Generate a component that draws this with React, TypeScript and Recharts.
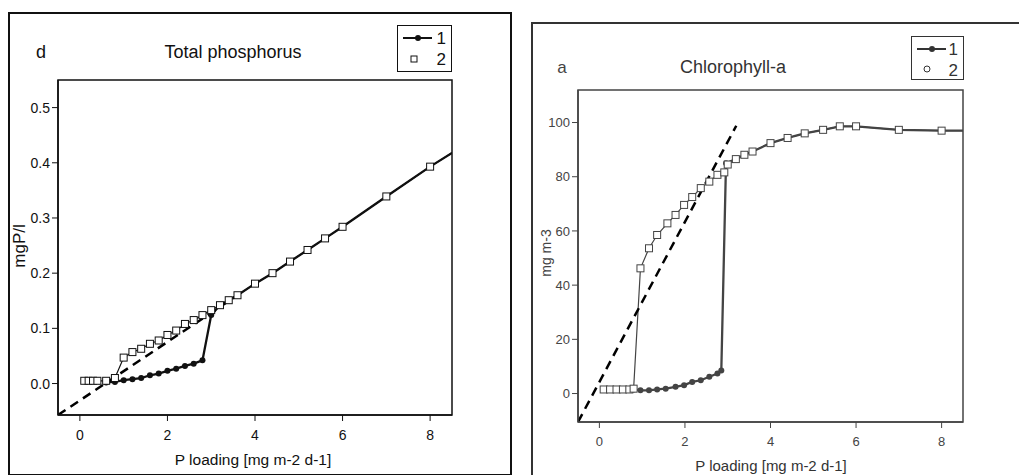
import React from "react";
import { LineChart, Line, XAxis, YAxis, ReferenceArea } from "recharts";

// Total phosphorus (panel d)
const tpX1 = [0.6, 0.8, 1.0, 1.2, 1.4, 1.6, 1.8, 2.0, 2.2, 2.4, 2.6, 2.8, 3.0, 3.2, 3.4, 3.6, 4.0, 4.4, 4.8, 5.2, 5.6, 6.0, 7.0, 8.0, 8.5];
const tpY1 = [0.002, 0.003, 0.006, 0.008, 0.01, 0.015, 0.018, 0.023, 0.027, 0.032, 0.036, 0.042, 0.124, 0.142, 0.151, 0.16, 0.181, 0.2, 0.221, 0.242, 0.263, 0.284, 0.339, 0.393, 0.418];
const tpX2 = [0.1, 0.2, 0.3, 0.4, 0.6, 0.8, 1.0, 1.2, 1.4, 1.6, 1.8, 2.0, 2.2, 2.4, 2.6, 2.8, 3.0, 3.2, 3.4, 3.6, 4.0, 4.4, 4.8, 5.2, 5.6, 6.0, 7.0, 8.0, 8.5];
const tpY2 = [0.005, 0.005, 0.005, 0.005, 0.005, 0.01, 0.047, 0.057, 0.063, 0.072, 0.078, 0.088, 0.096, 0.108, 0.115, 0.124, 0.133, 0.142, 0.151, 0.16, 0.181, 0.2, 0.221, 0.242, 0.263, 0.284, 0.339, 0.393, 0.418];
const tpDashX = [-0.5, 3.6];
const tpDashY = [-0.057, 0.16];
const tpYTicks = [0, 0.1, 0.2, 0.3, 0.4, 0.5];

// Chlorophyll-a (panel a)
const chX1 = [0.8, 0.96, 1.16, 1.35, 1.55, 1.78, 1.98, 2.17, 2.37, 2.57, 2.76, 2.85, 2.96, 3.19, 3.39, 3.58, 4.0, 4.4, 4.8, 5.23, 5.62, 6.0, 7.0, 8.0, 8.5];
const chY1 = [1.5, 1.2, 1.2, 1.5, 1.8, 2.5, 3.1, 4.3, 4.9, 6.2, 7.4, 8.5, 85, 86.5, 88.1, 89.3, 92.4, 94.3, 96, 97.3, 98.6, 98.6, 97.3, 97, 97];
const chX2 = [0.1, 0.25, 0.4, 0.55, 0.7, 0.8, 0.96, 1.16, 1.35, 1.59, 1.78, 1.98, 2.17, 2.37, 2.57, 2.76, 2.92, 3.0, 3.19, 3.39, 3.58, 4.0, 4.4, 4.8, 5.23, 5.62, 6.0, 7.0, 8.0, 8.5];
const chY2 = [1.5, 1.5, 1.5, 1.5, 1.5, 1.8, 46.2, 53.6, 58.5, 62.8, 65.9, 69.6, 72.5, 75.8, 78.2, 80.7, 81.6, 84.5, 86.5, 88.1, 89.3, 92.4, 94.3, 96, 97.3, 98.6, 98.6, 97.3, 97, 97];
const chDashX = [-0.5, 3.2];
const chDashY = [-10.5, 98.8];
const chYTicks = [0, 20, 40, 60, 80, 100];

const xTicks = [0, 2, 4, 6, 8];
const xDomain = [-0.5, 8.5];

const toRows = (xs: number[], ys: number[]) => xs.map((x, i) => ({ x, y: ys[i] }));

const FONT = '"Liberation Sans", Arial, sans-serif';

function makeDots(color: string) {
  const circle = (p: any) => {
    if (p.payload.x >= 8.5) return <g key={`c${p.index}`} />;
    return <circle key={`c${p.index}`} cx={p.cx} cy={p.cy} r={3} fill={color} />;
  };
  const square = (p: any) => {
    if (p.payload.x >= 8.5) return <g key={`s${p.index}`} />;
    return (
      <rect
        key={`s${p.index}`}
        x={p.cx - 3.5}
        y={p.cy - 3.5}
        width={7}
        height={7}
        fill="#fff"
        stroke={color}
        strokeWidth={1}
      />
    );
  };
  return { circle, square };
}

function Txt({ x, y, size, color = "#111", rotate = 0, children }: any) {
  return (
    <div
      style={{
        position: "absolute",
        left: x,
        top: y,
        transform: `translate(-50%, -50%) rotate(${rotate}deg)`,
        fontSize: size,
        color,
        lineHeight: 1,
        whiteSpace: "nowrap",
        fontFamily: FONT,
      }}
    >
      {children}
    </div>
  );
}

function LegendBox({ left, top, width, height, color, openCircle }: any) {
  return (
    <div
      style={{
        position: "absolute",
        left,
        top,
        width,
        height,
        border: `1px solid ${color}`,
        background: "#fff",
      }}
    >
      <svg width={width} height={height} style={{ position: "absolute", left: 0, top: 0 }}>
        <line x1={5} x2={34} y1={12} y2={12} stroke={color} strokeWidth={2} />
        <circle cx={20} cy={12} r={3} fill={color} />
        {openCircle ? (
          <circle cx={15} cy={32} r={3} fill="#fff" stroke={color} strokeWidth={1} />
        ) : (
          <rect x={13} y={30} width={6} height={6} fill="#fff" stroke={color} strokeWidth={1} />
        )}
        <text x={width - 5} y={18} fontSize={17} fontFamily={FONT} fill={color} textAnchor="end">1</text>
        <text x={width - 5} y={39} fontSize={17} fontFamily={FONT} fill={color} textAnchor="end">2</text>
      </svg>
    </div>
  );
}

function Panel({ s1, s2, dash, yDomain, yTicks, yFmt, margin, color, fontSize, width }: any) {
  const dots = makeDots(color);
  const axisLine = { stroke: color, strokeWidth: 1.5 };
  const tick = { fill: color, fontSize, fontFamily: FONT };
  return (
    <LineChart width={width} height={475} margin={margin}>
      <XAxis
        dataKey="x"
        type="number"
        domain={xDomain}
        ticks={xTicks}
        allowDataOverflow
        axisLine={axisLine}
        tickLine={{ stroke: color }}
        tickSize={6}
        tickMargin={9}
        tick={tick}
        height={30}
      />
      <YAxis
        dataKey="y"
        type="number"
        domain={yDomain}
        ticks={yTicks}
        allowDataOverflow
        axisLine={axisLine}
        tickLine={{ stroke: color }}
        tickSize={6}
        tickMargin={2}
        tick={tick}
        tickFormatter={yFmt}
        width={50}
      />
      {/* plot frame */}
      <ReferenceArea
        x1={xDomain[0]}
        x2={xDomain[1]}
        y1={yDomain[0]}
        y2={yDomain[1]}
        fill="none"
        fillOpacity={0}
        stroke={color}
        strokeWidth={1.5}
        ifOverflow="visible"
      />
      <Line
        data={s1}
        dataKey="y"
        type="linear"
        stroke={color}
        strokeWidth={2.3}
        dot={dots.circle}
        activeDot={false}
        isAnimationActive={false}
      />
      <Line
        data={s2}
        dataKey="y"
        type="linear"
        stroke={color}
        strokeWidth={1.2}
        dot={dots.square}
        activeDot={false}
        isAnimationActive={false}
      />
      <Line
        data={dash}
        dataKey="y"
        type="linear"
        stroke="#000"
        strokeWidth={2.5}
        strokeDasharray="9 6"
        dot={false}
        activeDot={false}
        isAnimationActive={false}
      />
    </LineChart>
  );
}

export default function App() {
  return (
    <div
      style={{
        position: "absolute",
        left: 0,
        top: 0,
        width: 1019,
        height: 475,
        overflow: "hidden",
        background: "#fff",
        fontFamily: FONT,
      }}
    >
      {/* panel frames */}
      <div style={{ position: "absolute", left: 8, top: 12, width: 500, height: 460, border: "2px solid #111" }} />
      <div style={{ position: "absolute", left: 531, top: 22, width: 520, height: 480, border: "2px solid #333" }} />

      <div style={{ position: "absolute", left: 0, top: 0 }}>
        <Panel
          width={510}
          s1={toRows(tpX1, tpY1)}
          s2={toRows(tpX2, tpY2)}
          dash={toRows(tpDashX, tpDashY)}
          yDomain={[-0.057, 0.55]}
          yTicks={tpYTicks}
          yFmt={(v: number) => v.toFixed(1)}
          margin={{ top: 80, right: 58, left: 8, bottom: 30 }}
          color="#111"
          fontSize={14}
        />
      </div>
      <div style={{ position: "absolute", left: 510, top: 0 }}>
        <Panel
          width={509}
          s1={toRows(chX1, chY1)}
          s2={toRows(chX2, chY2)}
          dash={toRows(chDashX, chDashY)}
          yDomain={[-10.5, 112]}
          yTicks={chYTicks}
          yFmt={(v: number) => String(v)}
          margin={{ top: 90, right: 56, left: 18, bottom: 23 }}
          color="#444"
          fontSize={13}
        />
      </div>

      {/* panel d texts */}
      <Txt x={41} y={52} size={18}>d</Txt>
      <Txt x={233} y={52} size={18}>Total phosphorus</Txt>
      <Txt x={19} y={246} size={17} rotate={-90}>mgP/l</Txt>
      <Txt x={253} y={460} size={15.5}>P loading [mg m-2 d-1]</Txt>
      <LegendBox left={397} top={25} width={53} height={45} color="#111" />

      {/* panel a texts */}
      <Txt x={562} y={67} size={17} color="#444">a</Txt>
      <Txt x={733} y={67} size={18} color="#333">Chlorophyll-a</Txt>
      <Txt x={546} y={253} size={14} rotate={-90} color="#444">mg m-3</Txt>
      <Txt x={771} y={465} size={15} color="#333">P loading [mg m-2 d-1]</Txt>
      <LegendBox left={911} top={36} width={51} height={42} color="#333" openCircle />
    </div>
  );
}
